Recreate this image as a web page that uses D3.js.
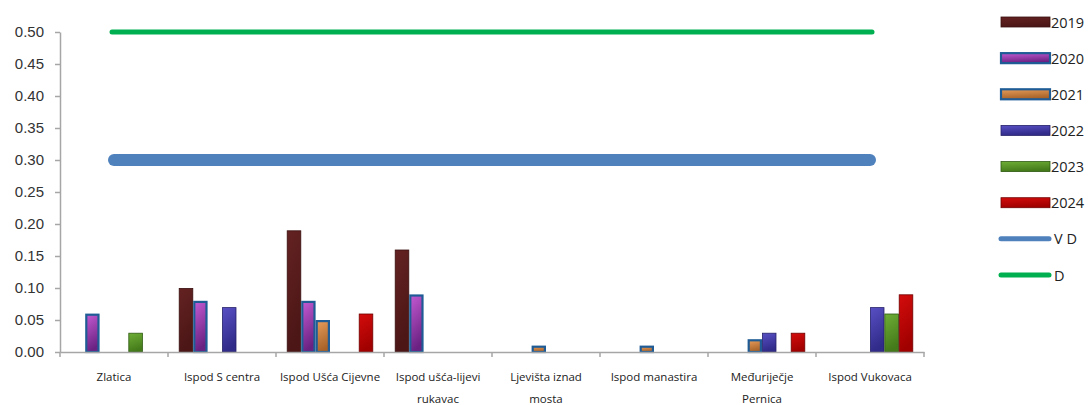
<!DOCTYPE html>
<html>
<head>
<meta charset="utf-8">
<script src="https://cdn.jsdelivr.net/npm/d3@7"></script>
<style>
  html, body { margin: 0; padding: 0; background: #fff; }
  svg { display: block; font-family: "Open Sans", "Liberation Sans", sans-serif; }
</style>
</head>
<body>
<svg id="chart" width="1091" height="405"></svg>
<script>
// Sampling sites (label lines)
const categories = [
  ["Zlatica"],
  ["Ispod S centra"],
  ["Ispod Ušća Cijevne"],
  ["Ispod ušća-lijevi", "rukavac"],
  ["Ljevišta iznad", "mosta"],
  ["Ispod manastira"],
  ["Međuriječje", "Pernica"],
  ["Ispod Vukovaca"]
];
const years = ["2019", "2020", "2021", "2022", "2023", "2024"];
// Measured values per year, one entry per site (null = no bar)
const v2019 = [null, 0.10, 0.19, 0.16, null, null, null, null];
const v2020 = [0.06, 0.08, 0.08, 0.09, null, null, null, null];
const v2021 = [null, null, 0.05, null, 0.01, 0.01, 0.02, null];
const v2022 = [null, 0.07, null, null, null, null, 0.03, 0.07];
const v2023 = [0.03, null, null, null, null, null, null, 0.06];
const v2024 = [null, null, 0.06, null, null, null, 0.03, 0.09];
// Limit lines
const limitVD = 0.30;
const limitD = 0.50;
const yTicks = [0, 0.05, 0.10, 0.15, 0.20, 0.25, 0.30, 0.35, 0.40, 0.45, 0.50];

const seriesValues = [v2019, v2020, v2021, v2022, v2023, v2024];

const svg = d3.select("#chart");
const plotLeft = 60, plotRight = 924, plotTop = 32, plotBottom = 352;

const x0 = d3.scaleBand()
  .domain(d3.range(categories.length))
  .range([plotLeft, plotRight])
  .paddingInner(0.2)
  .paddingOuter(0.1);
const x1 = d3.scaleBand()
  .domain(years)
  .range([0, x0.bandwidth()]);
const y = d3.scaleLinear().domain([0, 0.5]).range([plotBottom, plotTop]);

// Bar fill styles
const styles = {
  "2019": { hi: "#642222", lo: "#4c1616", stroke: "#3a1010", sw: 0.8 },
  "2020": { hi: "#c45ad2", lo: "#6a2282", stroke: "#1f5c96", sw: 2.2 },
  "2021": { hi: "#e69c5a", lo: "#a86228", stroke: "#1f5c96", sw: 2.2 },
  "2022": { hi: "#5850c4", lo: "#302a88", stroke: "#26226a", sw: 0.8 },
  "2023": { hi: "#6eae36", lo: "#447a1a", stroke: "#2e5a12", sw: 0.8 },
  "2024": { hi: "#d40c0c", lo: "#a00000", stroke: "#700000", sw: 0.8 }
};
const defs = svg.append("defs");
years.forEach(yr => {
  const s = styles[yr];
  const g = defs.append("linearGradient").attr("id", "g" + yr)
    .attr("x1", 0).attr("y1", 0).attr("x2", 0.25).attr("y2", 1);
  g.append("stop").attr("offset", "0%").attr("stop-color", s.hi);
  g.append("stop").attr("offset", "100%").attr("stop-color", s.lo);
});

// Y axis
const yAxis = d3.axisLeft(y).tickValues(yTicks).tickFormat(d3.format(".2f")).tickSize(5).tickSizeOuter(0);
const gy = svg.append("g").attr("transform", `translate(${plotLeft},0)`).call(yAxis);
gy.select(".domain").attr("stroke", "#a6a6a6").attr("stroke-width", 1.5);
gy.selectAll(".tick line").attr("stroke", "#a6a6a6").attr("stroke-width", 1.5);
gy.selectAll(".tick text").attr("fill", "#333").attr("font-size", 15).attr("x", -16);

// Bars
seriesValues.forEach((vals, si) => {
  const yr = years[si];
  const s = styles[yr];
  const data = vals.map((v, i) => ({ i, v })).filter(d => d.v !== null);
  const bw = x1.bandwidth();
  svg.append("g").selectAll("rect").data(data).enter().append("rect")
    .attr("x", d => x0(d.i) + x1(yr) + s.sw / 2)
    .attr("y", d => y(d.v) + s.sw / 2)
    .attr("width", bw - s.sw)
    .attr("height", d => Math.max(0, y(0) - y(d.v) - s.sw / 2))
    .attr("fill", `url(#g${yr})`)
    .attr("stroke", s.stroke)
    .attr("stroke-width", s.sw);
});

// X axis line
const xAxis = d3.axisBottom(x0).tickSize(0).tickFormat("");
const gx = svg.append("g").attr("transform", `translate(0,${plotBottom})`).call(xAxis);
gx.select(".domain").attr("stroke", "#a6a6a6").attr("stroke-width", 1.5);
// Category boundary ticks
const bounds = d3.range(categories.length + 1).map(i => plotLeft + i * x0.step());
svg.append("g").selectAll("line").data(bounds).enter().append("line")
  .attr("x1", d => d).attr("x2", d => d)
  .attr("y1", plotBottom).attr("y2", plotBottom + 5)
  .attr("stroke", "#a6a6a6").attr("stroke-width", 1.5);

// Category labels
const lab = svg.append("g");
categories.forEach((lines, i) => {
  const cx = x0(i) + x0.bandwidth() / 2;
  lines.forEach((t, k) => {
    lab.append("text").attr("x", cx).attr("y", 381 + k * 22)
      .attr("text-anchor", "middle").attr("font-size", 11.5).attr("fill", "#222").text(t);
  });
});

// Limit lines spanning first to last category centre
const cFirst = x0(0) + x0.bandwidth() / 2;
const cLast = x0(categories.length - 1) + x0.bandwidth() / 2;
svg.append("line").attr("x1", cFirst).attr("x2", cLast)
  .attr("y1", y(limitVD)).attr("y2", y(limitVD))
  .attr("stroke", "#4f81bd").attr("stroke-width", 12).attr("stroke-linecap", "round");
svg.append("line").attr("x1", cFirst - 2).attr("x2", cLast + 2)
  .attr("y1", y(limitD)).attr("y2", y(limitD))
  .attr("stroke", "#00b050").attr("stroke-width", 5).attr("stroke-linecap", "round");

// Legend
const legend = svg.append("g");
const legendY = d3.scalePoint().domain(years.concat(["V D", "D"])).range([22, 275]);
years.forEach(yr => {
  const s = styles[yr];
  const ly = legendY(yr);
  legend.append("rect").attr("x", 1001).attr("y", ly - 5).attr("width", 49).attr("height", 10)
    .attr("fill", `url(#g${yr})`).attr("stroke", s.stroke).attr("stroke-width", s.sw);
  legend.append("text").attr("x", 1051).attr("y", ly + 5.5).attr("font-size", 14.5).attr("fill", "#222").text(yr);
});
[["V D", "#4f81bd", 5], ["D", "#00b050", 5]].forEach(([name, col, w]) => {
  const ly = legendY(name);
  legend.append("line").attr("x1", 1001).attr("x2", 1049).attr("y1", ly).attr("y2", ly)
    .attr("stroke", col).attr("stroke-width", w).attr("stroke-linecap", "round");
  legend.append("text").attr("x", 1054).attr("y", ly + 5.5).attr("font-size", 14.5).attr("fill", "#222").text(name);
});
</script>
</body>
</html>
